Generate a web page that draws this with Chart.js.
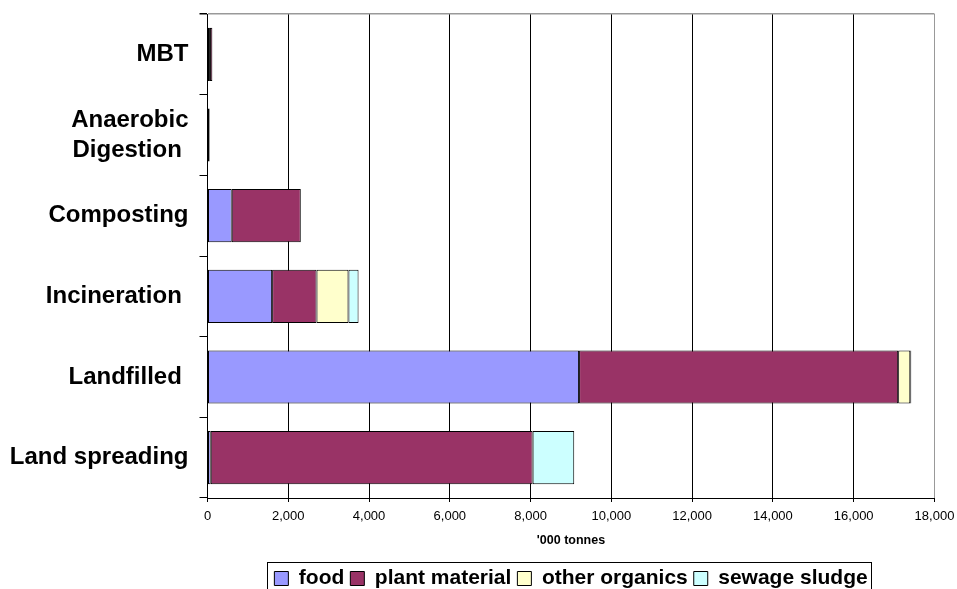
<!DOCTYPE html>
<html>
<head>
<meta charset="utf-8">
<script src="https://cdn.jsdelivr.net/npm/chart.js@4/dist/chart.umd.min.js"></script>
<style>
  html, body { margin: 0; padding: 0; background: #fff; }
  #wrap { width: 957px; height: 589px; position: relative; }
</style>
</head>
<body>
<div id="wrap"><canvas id="chart"></canvas></div>
<script>
// Organic waste by treatment route ('000 tonnes)
const routes = ['MBT', ['Anaerobic', 'Digestion '], 'Composting', 'Incineration ', 'Landfilled ', 'Land spreading'];

const food          = [60,   50,  600, 1600, 9200,   80];
const plantMaterial = [60,   10, 1710, 1100, 7900, 7970];
const otherOrganics = [0,     0,    0,  790,  300,    0];
const sewageSludge  = [0,     0,    0,  250,   25, 1030];

const xTicks = [0, 2000, 4000, 6000, 8000, 10000, 12000, 14000, 16000, 18000];

const FONT = '"Liberation Sans", Arial, Helvetica, sans-serif';
Chart.defaults.font.family = FONT;
Chart.defaults.color = '#000';

// Frame around the legend row
const legendFrame = {
  id: 'legendFrame',
  afterDraw(chart) {
    const lg = chart.legend;
    if (!lg || !lg.legendHitBoxes || !lg.legendHitBoxes.length) return;
    const boxes = lg.legendHitBoxes;
    const left = Math.min(...boxes.map(b => b.left)) - 7;
    const right = Math.max(...boxes.map(b => b.left + b.width)) + 4;
    const top = Math.min(...boxes.map(b => b.top)) - 6.5;
    const ctx = chart.ctx;
    ctx.save();
    ctx.strokeStyle = '#000';
    ctx.lineWidth = 1;
    ctx.strokeRect(Math.round(left) + 0.5, Math.round(top) + 0.5,
                   Math.round(right - left), chart.height + 20);
    ctx.restore();
  }
};

const seg = (label, data, color) => ({
  label, data,
  backgroundColor: color,
  borderColor: '#000',
  borderWidth: 1,
  borderSkipped: false
});

new Chart(document.getElementById('chart'), {
  type: 'bar',
  data: {
    labels: routes,
    datasets: [
      seg('food', food, '#9999FF'),
      seg('plant material', plantMaterial, '#993366'),
      seg('other organics', otherOrganics, '#FFFFCC'),
      seg('sewage sludge', sewageSludge, '#CCFFFF')
    ]
  },
  options: {
    indexAxis: 'y',
    responsive: true,
    maintainAspectRatio: false,
    devicePixelRatio: 1,
    animation: false,
    layout: { padding: { top: 14, right: 22.5, bottom: -10, left: 0 } },
    datasets: { bar: { categoryPercentage: 1, barPercentage: 0.66 } },
    scales: {
      x: {
        stacked: true,
        min: 0,
        max: 18000,
        afterBuildTicks(axis) { axis.ticks = xTicks.map(v => ({ value: v })); },
        afterFit(axis) {
          axis.height = 64;
          axis.paddingLeft = 0;
          axis.paddingRight = 0;
        },
        border: { display: true, color: '#000', width: 1 },
        grid: {
          color: ctx => ctx.index === xTicks.length - 1 ? '#999' : '#000',
          lineWidth: 1,
          tickLength: 4,
          tickColor: '#000'
        },
        ticks: {
          padding: 7,
          maxRotation: 0,
          font: { size: 13 },
          color: '#000',
          callback: v => Number(v).toLocaleString('en-US')
        },
        title: {
          display: true,
          text: "'000 tonnes",
          font: { size: 12.5, weight: 'bold' },
          color: '#000',
          padding: { top: 0, bottom: 13.7 }
        }
      },
      y: {
        stacked: true,
        afterFit(axis) {
          axis.width = 207.5;
          axis.paddingTop = 0;
          axis.paddingBottom = 0;
        },
        border: { display: true, color: '#000', width: 1 },
        grid: {
          offset: true,
          drawOnChartArea: true,
          color: ctx => ctx.index === 0 ? '#999' : 'rgba(0,0,0,0)',
          lineWidth: ctx => ctx.index === 0 ? 1.5 : 1,
          tickLength: 8,
          tickColor: '#000'
        },
        ticks: {
          padding: 11,
          font: { size: 24, weight: 'bold', lineHeight: 1.25 },
          color: '#000'
        }
      }
    },
    plugins: {
      tooltip: { enabled: false },
      legend: {
        position: 'bottom',
        fullSize: false,
        labels: {
          boxWidth: 14,
          boxHeight: 14,
          padding: 6,
          color: '#000',
          font: { size: 21, weight: 'bold' }
        }
      }
    }
  },
  plugins: [legendFrame]
});
</script>
</body>
</html>
